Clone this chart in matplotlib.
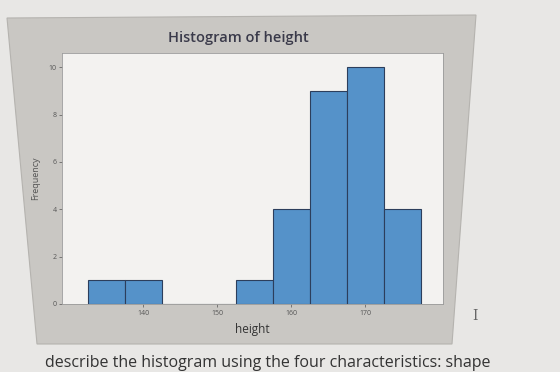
import numpy as np
import matplotlib.pyplot as plt
from matplotlib.patches import Polygon

# histogram of height (bin midpoints and counts)
bin_mids = [135, 140, 145, 150, 155, 160, 165, 170, 175]
counts = [1, 1, 0, 0, 1, 4, 9, 10, 4]
bin_width = 5
x_ticks = [140, 150, 160, 170]
y_ticks = [0, 2, 4, 6, 8, 10]

plt.rcParams["font.family"] = ["Open Sans", "DejaVu Sans"]

fig = plt.figure(figsize=(5.6, 3.72), dpi=100)
fig.patch.set_facecolor("#e8e7e5")

# grey minitab panel (slightly skewed as in the photo)
W, H = 560, 372
panel = [(7, 18), (476, 15), (452, 344), (37, 344)]
fig.patches.append(Polygon([(x / W, 1 - y / H) for x, y in panel], closed=True,
                           transform=fig.transFigure, facecolor="#c9c7c3",
                           edgecolor="#b5b3af", lw=0.8, zorder=-1))

ax = fig.add_axes([62 / W, 1 - 304 / H, (443 - 62) / W, (304 - 53) / H])
ax.set_zorder(2)
ax.set_facecolor("#f3f2f0")
ax.bar(bin_mids, counts, width=bin_width, color="#5592c9", edgecolor="#2c3e5c",
       linewidth=0.8, zorder=2)

ax.set_xlim(129.0, 180.5)
ax.set_ylim(0, 10.6)
ax.set_xticks(x_ticks)
ax.set_yticks(y_ticks)
ax.tick_params(labelsize=5, colors="#555555", length=2, width=0.5, pad=2)
for s in ax.spines.values():
    s.set_color("#9a9a9a")
    s.set_linewidth(0.6)

ax.set_xlabel("height", fontsize=8.5, color="#333333", labelpad=5)
ax.set_ylabel("Frequency", fontsize=6.5, color="#555555", labelpad=6)

fig.text(238 / W, 1 - 38 / H, "Histogram of height", fontsize=10.5,
         fontweight="semibold", color="#3a3a4a", ha="center", va="center")
fig.text(475 / W, 1 - 316 / H, "I", fontsize=10, family="DejaVu Serif",
         color="#666666", ha="center", va="center")
fig.text(45 / W, 1 / H, "describe the histogram using the four characteristics: shape",
         fontsize=11.5, color="#333333", ha="left", va="bottom")

fig.savefig("out.png", dpi=100)
